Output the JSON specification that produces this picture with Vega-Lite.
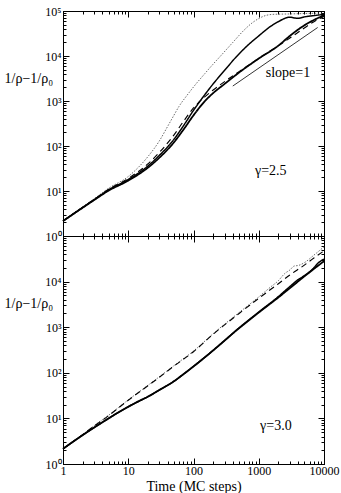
{
  "$schema": "https://vega.github.io/schema/vega-lite/v6.json",
  "padding": {"left": 3, "top": 4, "right": 5, "bottom": 2},
  "spacing": 0,
  "bounds": "flush",
  "config": {
    "font": "Liberation Serif",
    "view": {"stroke": "black", "strokeWidth": 1},
    "axis": {"grid": false, "domainColor": "black", "tickColor": "black", "labelColor": "black", "titleColor": "black", "labelFont": "Liberation Serif", "titleFont": "Liberation Serif", "labelFontSize": 12, "titleFontSize": 14, "titleFontWeight": "normal", "labelOverlap": false, "labelFlush": false}
  },
  "datasets": {
    "top": [
      {"series": "dotted", "t": 1, "v": 2.15}, {"series": "dotted", "t": 2, "v": 4.4}, {"series": "dotted", "t": 3, "v": 6.7}, {"series": "dotted", "t": 5, "v": 11.5}, {"series": "dotted", "t": 10, "v": 21}, {"series": "dotted", "t": 20, "v": 58}, {"series": "dotted", "t": 30, "v": 130}, {"series": "dotted", "t": 40, "v": 270}, {"series": "dotted", "t": 50, "v": 480}, {"series": "dotted", "t": 60, "v": 760}, {"series": "dotted", "t": 80, "v": 1350}, {"series": "dotted", "t": 100, "v": 2050}, {"series": "dotted", "t": 150, "v": 4100}, {"series": "dotted", "t": 200, "v": 6600}, {"series": "dotted", "t": 260, "v": 10000}, {"series": "dotted", "t": 400, "v": 20000}, {"series": "dotted", "t": 600, "v": 38000}, {"series": "dotted", "t": 800, "v": 55000}, {"series": "dotted", "t": 1000, "v": 68000}, {"series": "dotted", "t": 1300, "v": 80000}, {"series": "dotted", "t": 1600, "v": 84000}, {"series": "dotted", "t": 2000, "v": 85000}, {"series": "dotted", "t": 3000, "v": 86000}, {"series": "dotted", "t": 5000, "v": 88000}, {"series": "dotted", "t": 10000, "v": 90000},
      {"series": "thin", "t": 1, "v": 2.15}, {"series": "thin", "t": 2, "v": 4.3}, {"series": "thin", "t": 3, "v": 6.4}, {"series": "thin", "t": 5, "v": 10.6}, {"series": "thin", "t": 10, "v": 18}, {"series": "thin", "t": 20, "v": 36}, {"series": "thin", "t": 30, "v": 62}, {"series": "thin", "t": 50, "v": 140}, {"series": "thin", "t": 70, "v": 280}, {"series": "thin", "t": 100, "v": 620}, {"series": "thin", "t": 150, "v": 1400}, {"series": "thin", "t": 200, "v": 2400}, {"series": "thin", "t": 300, "v": 4800}, {"series": "thin", "t": 450, "v": 9500}, {"series": "thin", "t": 700, "v": 18000}, {"series": "thin", "t": 1000, "v": 28000}, {"series": "thin", "t": 1500, "v": 45000}, {"series": "thin", "t": 2000, "v": 58000}, {"series": "thin", "t": 2600, "v": 70000}, {"series": "thin", "t": 3000, "v": 73000}, {"series": "thin", "t": 3500, "v": 70000}, {"series": "thin", "t": 4000, "v": 69000}, {"series": "thin", "t": 5000, "v": 74000}, {"series": "thin", "t": 7000, "v": 79000}, {"series": "thin", "t": 10000, "v": 84000},
      {"series": "dashed", "t": 1, "v": 2.15}, {"series": "dashed", "t": 2, "v": 4.35}, {"series": "dashed", "t": 3, "v": 6.5}, {"series": "dashed", "t": 5, "v": 10.9}, {"series": "dashed", "t": 10, "v": 19}, {"series": "dashed", "t": 20, "v": 40}, {"series": "dashed", "t": 30, "v": 72}, {"series": "dashed", "t": 50, "v": 175}, {"series": "dashed", "t": 70, "v": 350}, {"series": "dashed", "t": 100, "v": 700}, {"series": "dashed", "t": 150, "v": 1250}, {"series": "dashed", "t": 200, "v": 1750}, {"series": "dashed", "t": 300, "v": 2700}, {"series": "dashed", "t": 500, "v": 4500}, {"series": "dashed", "t": 1000, "v": 8800}, {"series": "dashed", "t": 2000, "v": 17000}, {"series": "dashed", "t": 3000, "v": 25000}, {"series": "dashed", "t": 5000, "v": 42000}, {"series": "dashed", "t": 7000, "v": 58000}, {"series": "dashed", "t": 10000, "v": 76000},
      {"series": "thick", "t": 1, "v": 2.15}, {"series": "thick", "t": 2, "v": 4.25}, {"series": "thick", "t": 3, "v": 6.3}, {"series": "thick", "t": 5, "v": 10.2}, {"series": "thick", "t": 10, "v": 17}, {"series": "thick", "t": 20, "v": 33}, {"series": "thick", "t": 30, "v": 55}, {"series": "thick", "t": 50, "v": 120}, {"series": "thick", "t": 70, "v": 230}, {"series": "thick", "t": 100, "v": 480}, {"series": "thick", "t": 150, "v": 1000}, {"series": "thick", "t": 200, "v": 1500}, {"series": "thick", "t": 300, "v": 2400}, {"series": "thick", "t": 500, "v": 4300}, {"series": "thick", "t": 1000, "v": 8800}, {"series": "thick", "t": 2000, "v": 17000}, {"series": "thick", "t": 3000, "v": 28000}, {"series": "thick", "t": 5000, "v": 48000}, {"series": "thick", "t": 7000, "v": 63000}, {"series": "thick", "t": 10000, "v": 80000}
    ],
    "bottom": [
      {"series": "dotted", "t": 1, "v": 2.15}, {"series": "dotted", "t": 2, "v": 4.4}, {"series": "dotted", "t": 3, "v": 6.9}, {"series": "dotted", "t": 5, "v": 11.7}, {"series": "dotted", "t": 10, "v": 25.5}, {"series": "dotted", "t": 20, "v": 53}, {"series": "dotted", "t": 30, "v": 82}, {"series": "dotted", "t": 50, "v": 143}, {"series": "dotted", "t": 100, "v": 300}, {"series": "dotted", "t": 200, "v": 720}, {"series": "dotted", "t": 500, "v": 2100}, {"series": "dotted", "t": 1000, "v": 4600}, {"series": "dotted", "t": 1500, "v": 7500}, {"series": "dotted", "t": 2000, "v": 10500}, {"series": "dotted", "t": 2500, "v": 15000}, {"series": "dotted", "t": 3000, "v": 18000}, {"series": "dotted", "t": 3500, "v": 22000}, {"series": "dotted", "t": 4000, "v": 22500}, {"series": "dotted", "t": 5000, "v": 26000}, {"series": "dotted", "t": 7000, "v": 38000}, {"series": "dotted", "t": 10000, "v": 58000},
      {"series": "dashed", "t": 1, "v": 2.15}, {"series": "dashed", "t": 2, "v": 4.4}, {"series": "dashed", "t": 3, "v": 6.8}, {"series": "dashed", "t": 5, "v": 11.5}, {"series": "dashed", "t": 10, "v": 25}, {"series": "dashed", "t": 20, "v": 52}, {"series": "dashed", "t": 30, "v": 80}, {"series": "dashed", "t": 50, "v": 140}, {"series": "dashed", "t": 100, "v": 290}, {"series": "dashed", "t": 200, "v": 700}, {"series": "dashed", "t": 500, "v": 2000}, {"series": "dashed", "t": 1000, "v": 4300}, {"series": "dashed", "t": 2000, "v": 9000}, {"series": "dashed", "t": 3000, "v": 14000}, {"series": "dashed", "t": 5000, "v": 23000}, {"series": "dashed", "t": 7000, "v": 33000}, {"series": "dashed", "t": 10000, "v": 47000},
      {"series": "thin", "t": 1, "v": 2.15}, {"series": "thin", "t": 2, "v": 4.3}, {"series": "thin", "t": 3, "v": 6.3}, {"series": "thin", "t": 5, "v": 10}, {"series": "thin", "t": 10, "v": 18}, {"series": "thin", "t": 20, "v": 30}, {"series": "thin", "t": 30, "v": 42}, {"series": "thin", "t": 50, "v": 65}, {"series": "thin", "t": 70, "v": 93}, {"series": "thin", "t": 100, "v": 138}, {"series": "thin", "t": 150, "v": 220}, {"series": "thin", "t": 200, "v": 310}, {"series": "thin", "t": 300, "v": 510}, {"series": "thin", "t": 445, "v": 840}, {"series": "thin", "t": 1000, "v": 2150}, {"series": "thin", "t": 2000, "v": 4700}, {"series": "thin", "t": 3000, "v": 7800}, {"series": "thin", "t": 4000, "v": 11000}, {"series": "thin", "t": 5000, "v": 13500}, {"series": "thin", "t": 7000, "v": 20000}, {"series": "thin", "t": 8000, "v": 25000}, {"series": "thin", "t": 10000, "v": 31000},
      {"series": "thick", "t": 1, "v": 2.15}, {"series": "thick", "t": 2, "v": 4.3}, {"series": "thick", "t": 3, "v": 6.3}, {"series": "thick", "t": 5, "v": 10}, {"series": "thick", "t": 7, "v": 13.5}, {"series": "thick", "t": 10, "v": 18}, {"series": "thick", "t": 15, "v": 24.5}, {"series": "thick", "t": 20, "v": 30}, {"series": "thick", "t": 30, "v": 42}, {"series": "thick", "t": 50, "v": 65}, {"series": "thick", "t": 70, "v": 93}, {"series": "thick", "t": 100, "v": 138}, {"series": "thick", "t": 150, "v": 220}, {"series": "thick", "t": 200, "v": 310}, {"series": "thick", "t": 300, "v": 510}, {"series": "thick", "t": 445, "v": 830}, {"series": "thick", "t": 700, "v": 1400}, {"series": "thick", "t": 1000, "v": 2100}, {"series": "thick", "t": 2000, "v": 4500}, {"series": "thick", "t": 3000, "v": 7200}, {"series": "thick", "t": 5000, "v": 13000}, {"series": "thick", "t": 7000, "v": 19000}, {"series": "thick", "t": 10000, "v": 28000}
    ],
    "slope": [{"t": 400, "v": 2150}, {"t": 8000, "v": 43000}],
    "toplabels": [{"t": 2800, "v": 4200, "text": "slope=1"}, {"t": 1530, "v": 27.5, "text": "γ=2.5"}],
    "bottomlabels": [{"t": 1830, "v": 6.8, "text": "γ=3.0"}]
  },
  "vconcat": [
    {
      "width": 261,
      "height": 225,
      "resolve": {"axis": {"x": "independent", "y": "independent"}},
      "layer": [
        {
          "data": {"name": "top"},
          "mark": {"type": "line", "interpolate": "monotone"},
          "encoding": {
            "x": {"field": "t", "type": "quantitative", "scale": {"type": "log", "domain": [1, 10000], "nice": false},
              "axis": {"orient": "bottom", "title": null, "labels": false, "values": [1,2,3,4,5,6,7,8,9,10,20,30,40,50,60,70,80,90,100,200,300,400,500,600,700,800,900,1000,2000,3000,4000,5000,6000,7000,8000,9000,10000],
                "tickSize": {"condition": {"test": "indexof([1,10,100,1000,10000], datum.value) >= 0", "value": -6}, "value": -3}}},
            "y": {"field": "v", "type": "quantitative", "scale": {"type": "log", "domain": [1, 100000], "nice": false},
              "axis": {"orient": "left", "title": "1/ρ−1/ρ₀", "titleAngle": 0, "titleAlign": "left", "titleBaseline": "middle", "titleX": -59, "titleY": 67,
                "values": [1,2,3,4,5,6,7,8,9,10,20,30,40,50,60,70,80,90,100,200,300,400,500,600,700,800,900,1000,2000,3000,4000,5000,6000,7000,8000,9000,10000,20000,30000,40000,50000,60000,70000,80000,90000,100000],
                "labelExpr": "datum.value == 1 ? '10⁰' : datum.value == 10 ? '10¹' : datum.value == 100 ? '10²' : datum.value == 1000 ? '10³' : datum.value == 10000 ? '10⁴' : datum.value == 100000 ? '10⁵' : ''",
                "labelPadding": 8, "labelBaseline": "middle",
                "tickSize": {"condition": {"test": "indexof([1,10,100,1000,10000,100000], datum.value) >= 0", "value": -6}, "value": -3}}},
            "detail": {"field": "series", "type": "nominal"},
            "strokeDash": {"field": "series", "type": "nominal", "legend": null, "scale": {"domain": ["thick", "thin", "dashed", "dotted"], "range": [[1, 0], [1, 0], [6, 4], [1.5, 1.5]]}},
            "strokeWidth": {"field": "series", "type": "nominal", "legend": null, "scale": {"domain": ["thick", "thin", "dashed", "dotted"], "range": [1.8, 0.8, 1.8, 0.9]}},
            "color": {"field": "series", "type": "nominal", "legend": null, "scale": {"domain": ["thick", "thin", "dashed", "dotted"], "range": ["#000000", "#000000", "#000000", "#444444"]}}
          }
        },
        {
          "data": {"name": "slope"},
          "mark": {"type": "line", "color": "black", "strokeWidth": 0.8},
          "encoding": {"x": {"field": "t", "type": "quantitative", "axis": null}, "y": {"field": "v", "type": "quantitative", "axis": null}}
        },
        {
          "data": {"name": "toplabels"},
          "mark": {"type": "text", "font": "Liberation Serif", "fontSize": 14, "align": "center", "baseline": "middle", "color": "black"},
          "encoding": {
            "x": {"field": "t", "type": "quantitative",
              "axis": {"orient": "top", "title": null, "labels": false, "values": [1,2,3,4,5,6,7,8,9,10,20,30,40,50,60,70,80,90,100,200,300,400,500,600,700,800,900,1000,2000,3000,4000,5000,6000,7000,8000,9000,10000],
                "tickSize": {"condition": {"test": "indexof([1,10,100,1000,10000], datum.value) >= 0", "value": -6}, "value": -3}}},
            "y": {"field": "v", "type": "quantitative",
              "axis": {"orient": "right", "title": null, "labels": false, "values": [1,2,3,4,5,6,7,8,9,10,20,30,40,50,60,70,80,90,100,200,300,400,500,600,700,800,900,1000,2000,3000,4000,5000,6000,7000,8000,9000,10000,20000,30000,40000,50000,60000,70000,80000,90000,100000],
                "tickSize": {"condition": {"test": "indexof([1,10,100,1000,10000,100000], datum.value) >= 0", "value": -6}, "value": -3}}},
            "text": {"field": "text", "type": "nominal"}
          }
        }
      ]
    },
    {
      "width": 261,
      "height": 228,
      "resolve": {"axis": {"x": "independent", "y": "independent"}},
      "layer": [
        {
          "data": {"name": "bottom"},
          "mark": {"type": "line", "interpolate": "monotone"},
          "encoding": {
            "x": {"field": "t", "type": "quantitative", "scale": {"type": "log", "domain": [1, 10000], "nice": false},
              "axis": {"orient": "bottom", "title": "Time (MC steps)", "titlePadding": 0, "format": "d", "labelPadding": 7, "labelBaseline": "top",
                "labelExpr": "indexof([1,10,100,1000,10000], datum.value) >= 0 ? datum.label : ''",
                "values": [1,2,3,4,5,6,7,8,9,10,20,30,40,50,60,70,80,90,100,200,300,400,500,600,700,800,900,1000,2000,3000,4000,5000,6000,7000,8000,9000,10000],
                "tickSize": {"condition": {"test": "indexof([1,10,100,1000,10000], datum.value) >= 0", "value": -6}, "value": -3}}},
            "y": {"field": "v", "type": "quantitative", "scale": {"type": "log", "domain": [1, 100000], "nice": false},
              "axis": {"orient": "left", "title": "1/ρ−1/ρ₀", "titleAngle": 0, "titleAlign": "left", "titleBaseline": "middle", "titleX": -59, "titleY": 67,
                "values": [1,2,3,4,5,6,7,8,9,10,20,30,40,50,60,70,80,90,100,200,300,400,500,600,700,800,900,1000,2000,3000,4000,5000,6000,7000,8000,9000,10000,20000,30000,40000,50000,60000,70000,80000,90000,100000],
                "labelExpr": "datum.value == 1 ? '10⁰' : datum.value == 10 ? '10¹' : datum.value == 100 ? '10²' : datum.value == 1000 ? '10³' : datum.value == 10000 ? '10⁴' : ''",
                "labelPadding": 8, "labelBaseline": "middle",
                "tickSize": {"condition": {"test": "indexof([1,10,100,1000,10000,100000], datum.value) >= 0", "value": -6}, "value": -3}}},
            "detail": {"field": "series", "type": "nominal"},
            "strokeDash": {"field": "series", "type": "nominal", "legend": null, "scale": {"domain": ["thick", "thin", "dashed", "dotted"], "range": [[1, 0], [1, 0], [6, 4], [1.5, 1.5]]}},
            "strokeWidth": {"field": "series", "type": "nominal", "legend": null, "scale": {"domain": ["thick", "thin", "dashed", "dotted"], "range": [1.8, 0.8, 1.8, 0.9]}},
            "color": {"field": "series", "type": "nominal", "legend": null, "scale": {"domain": ["thick", "thin", "dashed", "dotted"], "range": ["#000000", "#000000", "#000000", "#444444"]}}
          }
        },
        {
          "data": {"name": "bottomlabels"},
          "mark": {"type": "text", "font": "Liberation Serif", "fontSize": 14, "align": "center", "baseline": "middle", "color": "black"},
          "encoding": {
            "x": {"field": "t", "type": "quantitative",
              "axis": {"orient": "top", "title": null, "labels": false, "values": [1,2,3,4,5,6,7,8,9,10,20,30,40,50,60,70,80,90,100,200,300,400,500,600,700,800,900,1000,2000,3000,4000,5000,6000,7000,8000,9000,10000],
                "tickSize": {"condition": {"test": "indexof([1,10,100,1000,10000], datum.value) >= 0", "value": -6}, "value": -3}}},
            "y": {"field": "v", "type": "quantitative",
              "axis": {"orient": "right", "title": null, "labels": false, "values": [1,2,3,4,5,6,7,8,9,10,20,30,40,50,60,70,80,90,100,200,300,400,500,600,700,800,900,1000,2000,3000,4000,5000,6000,7000,8000,9000,10000,20000,30000,40000,50000,60000,70000,80000,90000,100000],
                "tickSize": {"condition": {"test": "indexof([1,10,100,1000,10000,100000], datum.value) >= 0", "value": -6}, "value": -3}}},
            "text": {"field": "text", "type": "nominal"}
          }
        }
      ]
    }
  ]
}
